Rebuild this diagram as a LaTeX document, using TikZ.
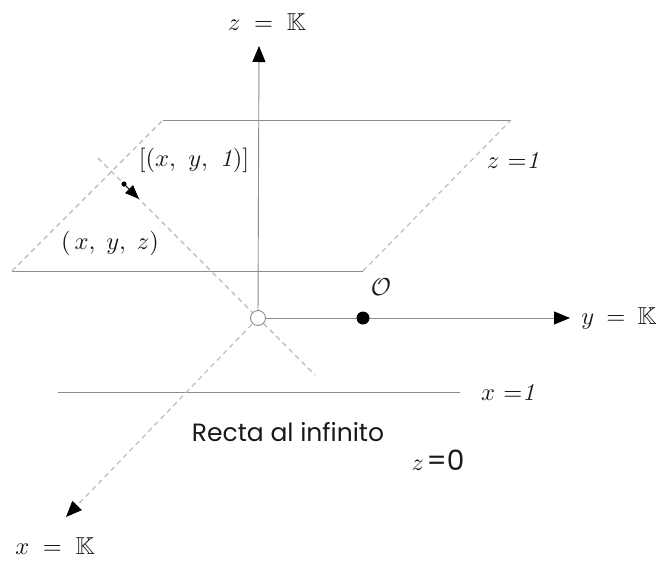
\documentclass[tikz,border=0pt]{standalone}
\usepackage{amssymb}
\usepackage{fontspec}
\newfontfamily\geo{Poppins}
\usetikzlibrary{arrows.meta}
\definecolor{axisgray}{RGB}{140,140,140}
\definecolor{dashgray}{RGB}{185,185,185}
\definecolor{inkc}{RGB}{25,25,25}
\begin{document}
\begin{tikzpicture}[x=1pt,y=-1pt,
  axisline/.style={draw=axisgray, line width=0.9pt},
  dashline/.style={draw=dashgray, line width=1.1pt, dash pattern=on 5pt off 4pt},
  tip/.style={-{Triangle[length=16pt,width=13pt,color=black]}},
  lab/.style={scale=2.45, text=inkc, inner sep=0pt},
  geolab/.style={scale=2.5, text=inkc, inner sep=0pt, font=\geo}
]
\useasboundingbox (0,0) rectangle (656,560);
% key points
\coordinate (O) at (258,318);
\coordinate (ztip) at (259,46);
\coordinate (ytip) at (570,318);
\coordinate (xtip) at (66,517);
\coordinate (p1) at (163,120);
\coordinate (p2) at (511,120);
\coordinate (p3) at (363,271);
\coordinate (p4) at (12,271);
\coordinate (d1) at (98,158);
\coordinate (d2) at (315,375);
\coordinate (h1) at (58,392);
\coordinate (h2) at (460,392);
\coordinate (P) at (124,184);
\coordinate (Ptip) at (139,199);
\coordinate (U) at (363,318);
% plane z=1
\draw[axisline] (p1) -- (p2);
\draw[axisline] (p4) -- (p3);
\draw[dashline] (p4) -- (p1);
\draw[dashline] (p3) -- (p2);
% line x=1
\draw[axisline] (h1) -- (h2);
% axes
\draw[axisline, tip] (O) -- (ztip);
\draw[axisline, tip] (O) -- (ytip);
\draw[dashline, tip] (O) -- (xtip);
% line through origin and [(x,y,1)]
\draw[dashline] (d1) -- (d2);
% point and its arrow
\fill[black] (P) circle (2.6);
\draw[black, line width=0.8pt, -{Triangle[length=14pt,width=11pt]}] (P) -- (Ptip);
% origin and unit point
\draw[axisgray, line width=0.9pt, fill=white] (O) circle (7.5);
\fill[black] (U) circle (6.5);
% labels
\node[lab] (zK) at (267,22) {$z \;=\; \mathbb{K}$};
\node[lab] (yK) at (619,318) {$y \:=\: \mathbb{K}$};
\node[lab] (xK) at (55,546) {$x \;=\; \mathbb{K}$};
\node[lab] (P1) at (194,160) {$[(x,\ y,\ \mathit{1})]$};
\node[lab] (Pz) at (110,243) {$(\,x,\;y,\;z)$};
\node[lab] (z1) at (513,160) {$z\ {=}\mathit{1}$};
\node[lab] (x1) at (508,392) {$x\ {=}\mathit{1}$};
\node[lab] (Olab) at (381,287) {$\mathcal{O}$};
\node[geolab] (rinf) at (288,432) {Recta al infinito};
\node[inner sep=0pt, text=inkc] (z0) at (438,460) {\scalebox{2.4}{$z$}\;\scalebox{2.8}{\geo =0}};
\end{tikzpicture}
\end{document}
